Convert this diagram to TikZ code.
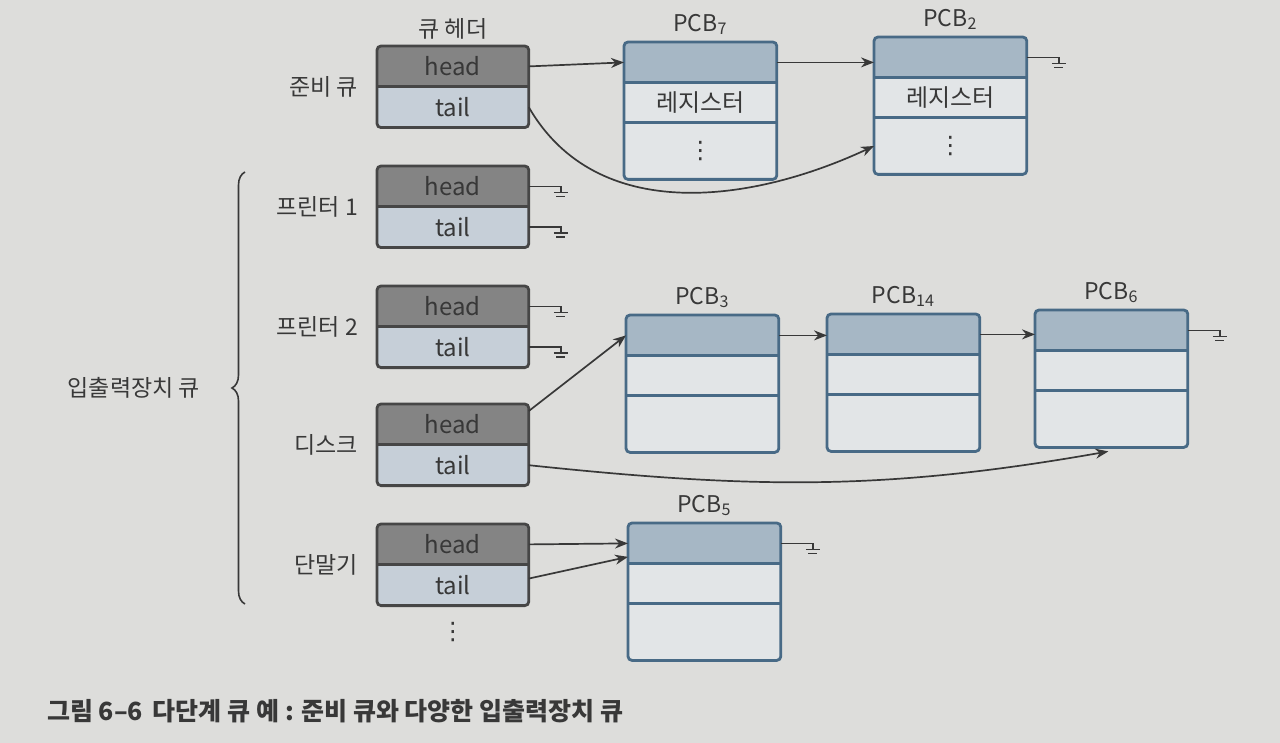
\documentclass[tikz,border=0pt]{standalone}
\usepackage{fontspec}
\setmainfont{Noto Sans CJK KR}
\newfontfamily\symfont{DejaVu Sans}
\usepackage{xcolor}
\usepackage{tikz}
\usetikzlibrary{arrows.meta, positioning, calc, decorations.pathreplacing}
\definecolor{paper}{RGB}{221, 221, 219}
\definecolor{inkgray}{RGB}{56, 56, 56}
\definecolor{headgray}{RGB}{132, 132, 132}
\definecolor{tailblue}{RGB}{198, 207, 216}
\definecolor{framegray}{RGB}{70, 70, 70}
\definecolor{pcbblue}{RGB}{72, 106, 134}
\definecolor{pcbtopfill}{RGB}{166, 183, 197}
\definecolor{pcbbody}{RGB}{226, 229, 231}

\newcommand{\vdotsym}{{\symfont ⋮}}
\newcommand{\queuehdr}[3]{%
  \node[headcell, anchor=north west] (#1h) at (#2,#3) {head};
  \node[tailcell, anchor=north] (#1t) at (#1h.south) {tail};
  \draw[hdrframe] (#1h.south west) -- (#1h.south east);
  \draw[hdrframe, rounded corners=2pt] (#1h.north west) rectangle (#1t.south east);
}
\newcommand{\pcbbox}[6]{%
  \node[pcbtop, anchor=north west] (#1a) at (#2,#3) {};
  \node[pcbmid, anchor=north] (#1b) at (#1a.south) {#5};
  \node[pcblow, anchor=north] (#1c) at (#1b.south) {#6};
  \draw[pcbframe] (#1a.south west) -- (#1a.south east) (#1b.south west) -- (#1b.south east);
  \draw[pcbframe, rounded corners=2pt] (#1a.north west) rectangle (#1c.south east);
  \node[qlabel, above=0pt] (#1n) at (#1a.north) {PCB\textsubscript{#4}};
}

\begin{document}
\begin{tikzpicture}[x=0.5pt, y=0.5pt, >=Stealth,
    font=\fontsize{12}{14}\selectfont, text=inkgray,
    headcell/.style={fill=headgray, minimum width=75.5pt, minimum height=20pt, inner sep=0pt},
    tailcell/.style={headcell, fill=tailblue},
    hdrframe/.style={draw=framegray, line width=1.4pt},
    pcbtop/.style={fill=pcbtopfill, minimum width=76pt, minimum height=20pt, inner sep=0pt},
    pcbmid/.style={pcbtop, fill=pcbbody, minimum height=19.5pt},
    pcblow/.style={pcbtop, fill=pcbbody, minimum height=28pt},
    pcbframe/.style={draw=pcbblue, line width=1.4pt},
    qlabel/.style={font=\fontsize{11.5}{14}\selectfont},
    link/.style={->, draw=inkgray, line width=0.85pt, -{Stealth[length=6.5pt, width=5pt]}},
    wire/.style={draw=inkgray, line width=0.7pt},
    gnd/.pic={\draw[wire] (0,0) -- (32,0) -- (32,-6) (25,-6) -- (39,-6) (27.5,-10) -- (36.5,-10);}]
    \fill[paper] (0,0) rectangle (1280,-743);

    \queuehdr{ready}{377}{-46}
    \queuehdr{prna}{377}{-166}
    \queuehdr{prnb}{377}{-286}
    \queuehdr{disk}{377}{-404}
    \queuehdr{term}{377}{-524}

    \node[qlabel, above=0pt] (hdrlbl) at (readyh.north) {큐 헤더};
    \node[qlabel, left=6pt] (readyl) at (readyh.south west) {준비 큐};
    \node[qlabel, left=6pt] (prnal) at (prnah.south west) {프린터 1};
    \node[qlabel, left=6pt] (prnbl) at (prnbh.south west) {프린터 2};
    \node[qlabel, left=6pt] (diskl) at (diskh.south west) {디스크};
    \node[qlabel, left=6pt] (terml) at (termh.south west) {단말기};
    \node[below=5pt] (moredots) at (termt.south) {\vdotsym};

    \draw[wire, line width=0.8pt, decorate, decoration={brace, amplitude=6.5pt}] (245,-604) -- (245,-172);
    \node[qlabel, anchor=east] (iolbl) at (207,-388) {입출력장치 큐};

    \pcbbox{pcbg}{624}{-42}{7}{레지스터}{\vdotsym}
    \pcbbox{pcbb}{874}{-37}{2}{레지스터}{\vdotsym}
    \pcbbox{pcbc}{626}{-315}{3}{}{}
    \pcbbox{pcbn}{827}{-314}{14}{}{}
    \pcbbox{pcbf}{1035}{-310}{6}{}{}
    \pcbbox{pcbe}{628}{-523}{5}{}{}

    \draw[link] (readyh.east) -- (pcbga.west);
    \draw[link] (pcbga.east) -- (pcbga.east -| pcbba.west);
    \draw[link] (readyt.east) to[out=-60, in=205] (pcbbc.west);
    \draw[link] (diskh.10) -- (pcbca.west);
    \draw[link] (pcbca.east) -- (pcbca.east -| pcbna.west);
    \draw[link] (pcbna.east) -- (pcbna.east -| pcbfa.west);
    \draw[link] (diskt.east) to[out=-6, in=190] ($(pcbfc.south)+(-3,-4)$);
    \draw[link] (termh.east) -- (pcbea.west);
    \draw[link] (termt.5) -- (pcbea.190);

    \pic at (prnah.east) {gnd};
    \pic at (prnat.east) {gnd};
    \pic at (prnbh.east) {gnd};
    \pic at (prnbt.east) {gnd};
    \pic at (pcbba.east) {gnd};
    \pic at (pcbfa.east) {gnd};
    \pic at (pcbea.east) {gnd};

    \node[anchor=west, font=\fontsize{12.5}{14}\selectfont\bfseries] (caption) at (40,-711)
        {그림 6–6\hspace{5pt}다단계 큐 예 : 준비 큐와 다양한 입출력장치 큐};
\end{tikzpicture}
\end{document}
